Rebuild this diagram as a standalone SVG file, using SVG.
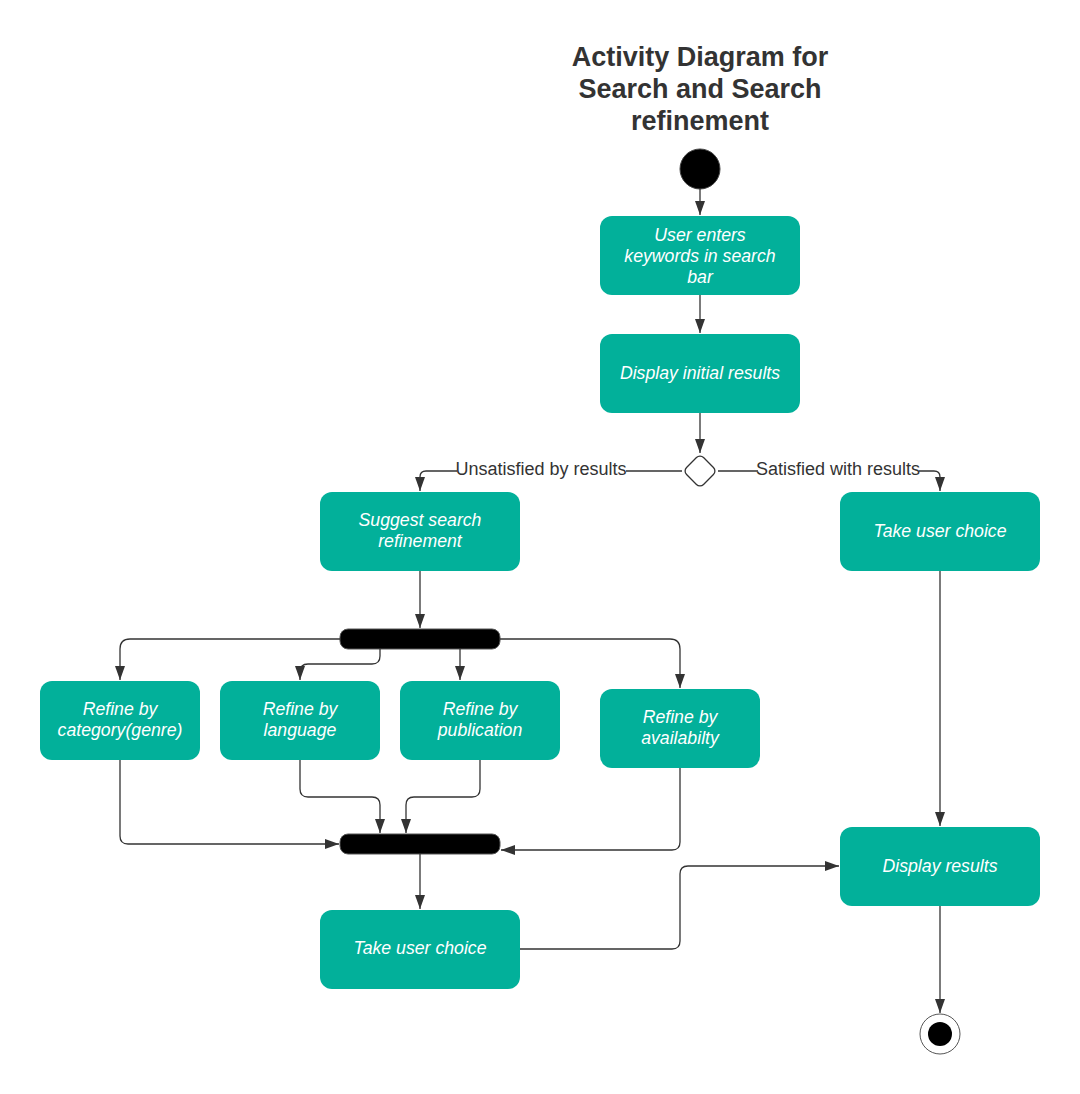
<svg xmlns="http://www.w3.org/2000/svg" width="1080" height="1094" viewBox="0 0 1080 1094">
<style>
.title{font-family:"Liberation Sans",Arial,sans-serif;font-size:27px;font-weight:bold;fill:#333;text-anchor:middle}
.act rect{fill:#02b09a}
.act text{font-family:"Liberation Sans",Arial,sans-serif;font-size:17.7px;font-style:italic;fill:#fff;text-anchor:middle}
.bar{fill:#000;stroke:#555;stroke-width:1}
.conn path{fill:none;stroke:#333;stroke-width:1.3;marker-end:url(#ah)}
.lbl{font-family:"Liberation Sans",Arial,sans-serif;font-size:18px;fill:#333;text-anchor:middle}
</style>
<defs>
<marker id="ah" viewBox="0 0 14 12" refX="14" refY="6" markerWidth="14" markerHeight="12" markerUnits="userSpaceOnUse" orient="auto">
<path d="M0,1 L14,6 L0,11 Z" fill="#333"/>
</marker>
</defs>
<rect width="1080" height="1094" fill="#fff"/>
<g id="title">
<text class="title" x="700" y="66">Activity Diagram for</text>
<text class="title" x="700" y="98">Search and Search</text>
<text class="title" x="700" y="130">refinement</text>
</g>
<g id="start"><circle cx="700" cy="169" r="20" fill="#000" stroke="#444" stroke-width="1"/></g>
<g id="n1" class="act"><rect x="600" y="216" width="200" height="79" rx="12"/>
<text x="700" y="241">User enters</text><text x="700" y="262">keywords in search</text><text x="700" y="283">bar</text></g>
<g id="n2" class="act"><rect x="600" y="334" width="200" height="79" rx="12"/>
<text x="700" y="379">Display initial results</text></g>
<g id="decision"><rect x="688" y="459" width="24" height="24" rx="5" transform="rotate(45 700 471)" fill="#fff" stroke="#333" stroke-width="1.3"/></g>
<g id="n3" class="act"><rect x="320" y="492" width="200" height="79" rx="12"/>
<text x="420" y="526">Suggest search</text><text x="420" y="547">refinement</text></g>
<g id="n4" class="act"><rect x="840" y="492" width="200" height="79" rx="12"/>
<text x="940" y="537">Take user choice</text></g>
<g id="fork"><rect class="bar" x="340" y="629" width="160" height="20" rx="8"/></g>
<g id="n5" class="act"><rect x="40" y="681" width="160" height="79" rx="12"/>
<text x="120" y="715">Refine by</text><text x="120" y="736">category(genre)</text></g>
<g id="n6" class="act"><rect x="220" y="681" width="160" height="79" rx="12"/>
<text x="300" y="715">Refine by</text><text x="300" y="736">language</text></g>
<g id="n7" class="act"><rect x="400" y="681" width="160" height="79" rx="12"/>
<text x="480" y="715">Refine by</text><text x="480" y="736">publication</text></g>
<g id="n8" class="act"><rect x="600" y="689" width="160" height="79" rx="12"/>
<text x="680" y="723">Refine by</text><text x="680" y="744">availabilty</text></g>
<g id="join"><rect class="bar" x="340" y="834" width="160" height="20" rx="8"/></g>
<g id="n9" class="act"><rect x="320" y="910" width="200" height="79" rx="12"/>
<text x="420" y="954">Take user choice</text></g>
<g id="n10" class="act"><rect x="840" y="827" width="200" height="79" rx="12"/>
<text x="940" y="872">Display results</text></g>
<g id="end"><circle cx="940" cy="1034" r="20" fill="#fff" stroke="#555" stroke-width="1"/><circle cx="940" cy="1034" r="12" fill="#000"/></g>
<g id="connectors" class="conn">
<path d="M700,189 V215"/>
<path d="M700,295 V333"/>
<path d="M700,413 V453"/>
<path d="M682,471 H426 Q420,471 420,477 V491"/>
<path d="M718,471 H934 Q940,471 940,477 V491"/>
<path d="M420,571 V628"/>
<path d="M340,639 H130 Q120,639 120,649 V680"/>
<path d="M500,639 H670 Q680,639 680,649 V688"/>
<path d="M380,649 V656 Q380,664 372,664 H308 Q300,664 300,672 V680"/>
<path d="M460,649 V680"/>
<path d="M120,760 V836 Q120,844 128,844 H339"/>
<path d="M300,760 V789 Q300,797 308,797 H372 Q380,797 380,805 V833"/>
<path d="M480,760 V789 Q480,797 472,797 H414 Q406,797 406,805 V833"/>
<path d="M680,768 V842 Q680,850 672,850 H501"/>
<path d="M420,854 V909"/>
<path d="M520,949 H672 Q680,949 680,941 V874 Q680,866 688,866 H839"/>
<path d="M940,571 V826"/>
<path d="M940,906 V1013"/>
</g>
<g id="labels">
<rect x="457" y="459" width="169" height="22" fill="#fff"/>
<text class="lbl" x="541" y="475">Unsatisfied by results</text>
<rect x="758" y="459" width="161" height="22" fill="#fff"/>
<text class="lbl" x="838" y="475">Satisfied with results</text>
</g>
</svg>
